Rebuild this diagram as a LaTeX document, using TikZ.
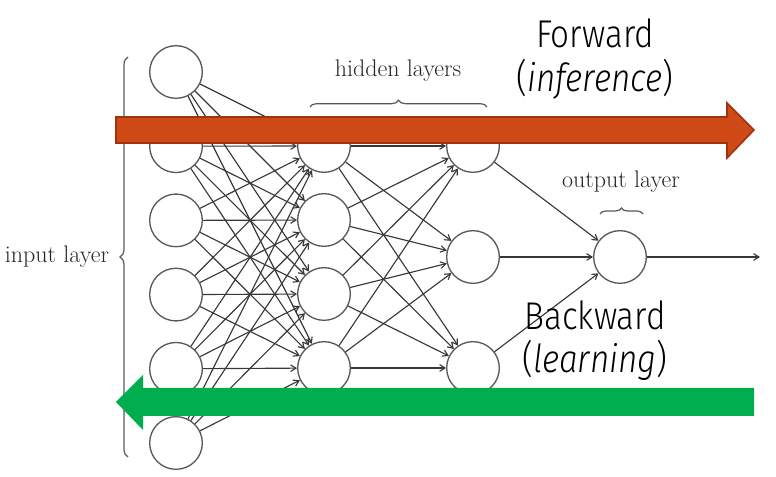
\documentclass[tikz,border=0pt]{standalone}
\usepackage{fontspec}
\usepackage{tikz}
\usetikzlibrary{arrows.meta,decorations.pathreplacing}
\newfontfamily\arrowfont{Fira Sans Light}[ItalicFont={Fira Sans Light Italic}]
\definecolor{fwdred}{RGB}{208, 74, 24}
\definecolor{fwdedge}{RGB}{160, 50, 12}
\definecolor{bwdgreen}{RGB}{0, 173, 79}
\tikzset{
  neuron/.style={circle, draw=black!65, line width=1pt, minimum size=39.5pt, inner sep=0pt},
  synapse/.style={draw=black!78, line width=0.85pt, -{Straight Barb[length=4pt,width=5pt]}},
  layerlabel/.style={text=black!85, font=\fontsize{18}{21}\selectfont},
  bigtext/.style={font=\arrowfont\fontsize{29}{34}\selectfont, anchor=base, xscale=0.86},
  layerbrace/.style={draw=black!65, line width=0.9pt, decorate}
}

\begin{document}
\begin{tikzpicture}[x=0.75pt, y=-0.75pt]
  \useasboundingbox (0,0) rectangle (776,477);

  % Input layer
  \node[neuron] (in1) at (176, 72) {};
  \node[neuron] (in2) at (176, 146.2) {};
  \node[neuron] (in3) at (176, 220.4) {};
  \node[neuron] (in4) at (176, 294.6) {};
  \node[neuron] (in5) at (176, 368.8) {};
  \node[neuron] (in6) at (176, 443) {};

  % Hidden layers
  \node[neuron] (ha1) at (324, 146) {};
  \node[neuron] (ha2) at (324, 220) {};
  \node[neuron] (ha3) at (324, 294) {};
  \node[neuron] (ha4) at (324, 368) {};

  \node[neuron] (hb1) at (473, 146) {};
  \node[neuron] (hb2) at (473, 257) {};
  \node[neuron] (hb3) at (473, 368) {};

  % Output layer
  \node[neuron] (out) at (620, 257) {};
  \coordinate (outend) at (760, 257);

  % Connections
  \foreach \i in {1,...,6}
    \foreach \j in {1,...,4}
      \draw[synapse] (in\i) -- (ha\j);
  \foreach \i in {1,...,4}
    \foreach \j in {1,...,3}
      \draw[synapse] (ha\i) -- (hb\j);
  \foreach \i in {1,...,3}
    \draw[synapse] (hb\i) -- (out);
  \draw[synapse] (out) -- (outend);

  % Braces and layer names
  \draw[layerbrace, decoration={brace, amplitude=6pt}] (128, 457) -- (128, 57);
  \node[layerlabel] (inlabel) at (57, 257) {input layer};
  \draw[layerbrace, decoration={brace, amplitude=5pt}] (310, 107) -- (487, 107);
  \node[layerlabel] (hidlabel) at (398, 71) {hidden layers};
  \draw[layerbrace, decoration={brace, amplitude=4.5pt}] (600, 214) -- (643, 214);
  \node[layerlabel] (outlabel) at (621, 182) {output layer};

  % Forward arrow
  \filldraw[fill=fwdred, draw=fwdedge, line width=1.2pt, line join=miter]
    (116,117) -- (727,117) -- (727,103) -- (754,130) -- (727,158) -- (727,143) -- (116,143) -- cycle;
  \node[bigtext] (fwd) at (595, 48) {Forward};
  \node[bigtext] (fwdsub) at (595, 92) {(\textit{inference})};

  % Backward arrow
  \fill[bwdgreen]
    (116,402) -- (143,375) -- (143,388) -- (754,388) -- (754,416) -- (143,416) -- (143,430) -- cycle;
  \node[bigtext] (bwd) at (595, 330) {Backward};
  \node[bigtext] (bwdsub) at (595, 373) {(\textit{learning})};
\end{tikzpicture}
\end{document}
